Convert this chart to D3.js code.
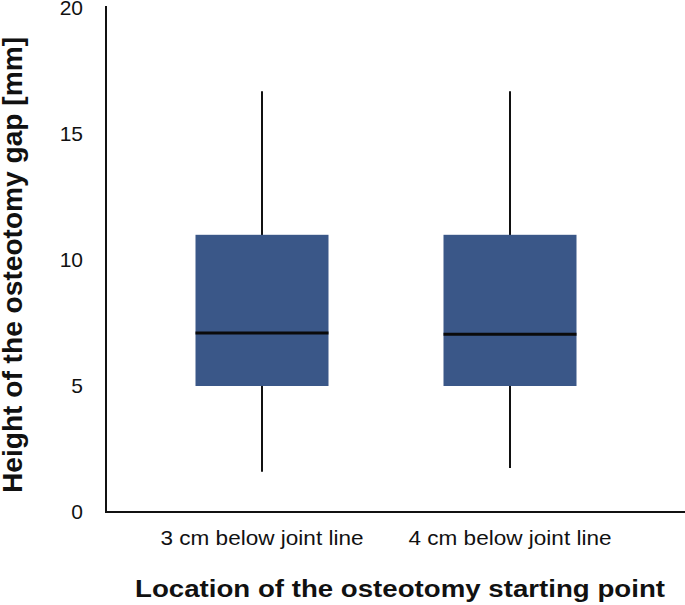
<!DOCTYPE html>
<meta charset="utf-8">
<script src="https://d3js.org/d3.v7.min.js"></script>
<style>
  body { margin: 0; background: #fff; }
  text { font-family: "Liberation Sans", Arial, Helvetica, sans-serif; fill: #111; }
</style>
<div id="chart"></div>
<script>

// data
var categories = ["3 cm below joint line", "4 cm below joint line"];
var whiskerLow  = [1.6, 1.75];
var q1          = [5.0, 5.0];
var medians     = [7.1, 7.05];
var q3          = [11.0, 11.0];
var whiskerHigh = [16.7, 16.7];
var yTicks = [0, 5, 10, 15, 20];

var width = 685, height = 605;

var svg = d3.select("#chart")
  .append("svg")
    .attr("width", width)
    .attr("height", height);

var axisLeftX = 106, axisBottomY = 512, axisRight = 685;

var y = d3.scaleLinear()
  .domain([0, 20])
  .range([axisBottomY, 8]);

var x = d3.scalePoint()
  .domain(categories)
  .range([262, 510]);

var boxW = 133;

// y tick labels (no tick marks)
svg.append("g")
  .selectAll("text")
  .data(yTicks)
  .enter()
  .append("text")
    .attr("x", 83)
    .attr("y", function(d) { return y(d); })
    .attr("dy", "0.35em")
    .attr("text-anchor", "end")
    .style("font-size", "21px")
    .text(function(d) { return d; });

// boxes
var boxes = svg.append("g")
  .selectAll("g")
  .data(categories)
  .enter()
  .append("g");

// whiskers
boxes.append("line")
  .attr("x1", function(d) { return x(d); })
  .attr("x2", function(d) { return x(d); })
  .attr("y1", function(d, i) { return y(whiskerHigh[i]); })
  .attr("y2", function(d, i) { return y(whiskerLow[i]); })
  .style("stroke", "#111")
  .style("stroke-width", 2);

boxes.append("rect")
  .attr("x", function(d) { return x(d) - boxW / 2; })
  .attr("y", function(d, i) { return y(q3[i]); })
  .attr("width", boxW)
  .attr("height", function(d, i) { return y(q1[i]) - y(q3[i]); })
  .style("fill", "#3a5788");

boxes.append("line")
  .attr("x1", function(d) { return x(d) - boxW / 2; })
  .attr("x2", function(d) { return x(d) + boxW / 2; })
  .attr("y1", function(d, i) { return y(medians[i]); })
  .attr("y2", function(d, i) { return y(medians[i]); })
  .style("stroke", "#0a0a0a")
  .style("stroke-width", 3);

// axis lines
svg.append("line")
  .attr("x1", axisLeftX).attr("x2", axisLeftX)
  .attr("y1", 6).attr("y2", axisBottomY + 1)
  .style("stroke", "#111").style("stroke-width", 2);

svg.append("line")
  .attr("x1", axisLeftX - 1).attr("x2", axisRight)
  .attr("y1", axisBottomY).attr("y2", axisBottomY)
  .style("stroke", "#111").style("stroke-width", 2);

// category labels (the original type is set a little wide)
svg.append("g")
  .selectAll("text")
  .data(categories)
  .enter()
  .append("text")
    .attr("x", function(d) { return x(d); })
    .attr("y", 545)
    .attr("text-anchor", "middle")
    .attr("textLength", 203)
    .attr("lengthAdjust", "spacingAndGlyphs")
    .style("font-size", "21px")
    .text(function(d) { return d; });

// axis titles
svg.append("text")
  .attr("x", 400)
  .attr("y", 597)
  .attr("text-anchor", "middle")
  .attr("textLength", 530)
  .attr("lengthAdjust", "spacingAndGlyphs")
  .style("font-size", "23px")
  .style("font-weight", "bold")
  .text("Location of the osteotomy starting point");

svg.append("text")
  .attr("transform", "translate(22,265) rotate(-90)")
  .attr("text-anchor", "middle")
  .attr("textLength", 456)
  .attr("lengthAdjust", "spacingAndGlyphs")
  .style("font-size", "27px")
  .style("font-weight", "bold")
  .text("Height of the osteotomy gap [mm]");

</script>
